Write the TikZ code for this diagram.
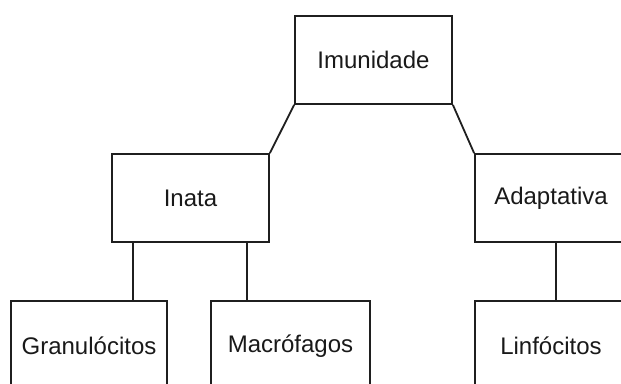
\documentclass[tikz,border=0pt]{standalone}
\usepackage{fontspec}
\setmainfont{Liberation Sans}
\begin{document}
\begin{tikzpicture}[x=1pt,y=-1pt,
  box/.style={draw=black!88, line width=1.8pt, inner sep=0pt, text=black!90,
    font=\fontsize{24}{28}\selectfont},
  link/.style={draw=black!88, line width=1.8pt}]
  \useasboundingbox (0,0) rectangle (621,383);
  \clip (0,0) rectangle (621,383);

  % level 0
  \node[box, minimum width=157pt, minimum height=88pt] (imun) at (373.5,60) {Imunidade};
  % level 1
  \node[box, minimum width=157pt, minimum height=88pt] (inata) at (190.5,198) {Inata};
  \node[box, minimum width=152pt, minimum height=88pt] (adapt) at (551,198) {Adaptativa};
  % level 2 (boxes run past the lower edge)
  \node[box, minimum width=156pt, minimum height=90pt] (gran) at (89,346) {Granulócitos};
  \node[box, minimum width=159pt, minimum height=90pt] (macro) at (290.5,346) {Macrófagos};
  \node[box, minimum width=152pt, minimum height=90pt] (linfo) at (551,346) {Linfócitos};

  % connectors
  \draw[link] (imun.south west) -- (inata.north east);
  \draw[link] (imun.south east) -- (adapt.north west);
  \draw[link] ([xshift=-57.5pt]inata.south) -- ([xshift=-57.5pt]inata.south |- gran.north);
  \draw[link] ([xshift=56.5pt]inata.south) -- ([xshift=56.5pt]inata.south |- macro.north);
  \draw[link] ([xshift=5pt]adapt.south) -- ([xshift=5pt]adapt.south |- linfo.north);
\end{tikzpicture}
\end{document}
